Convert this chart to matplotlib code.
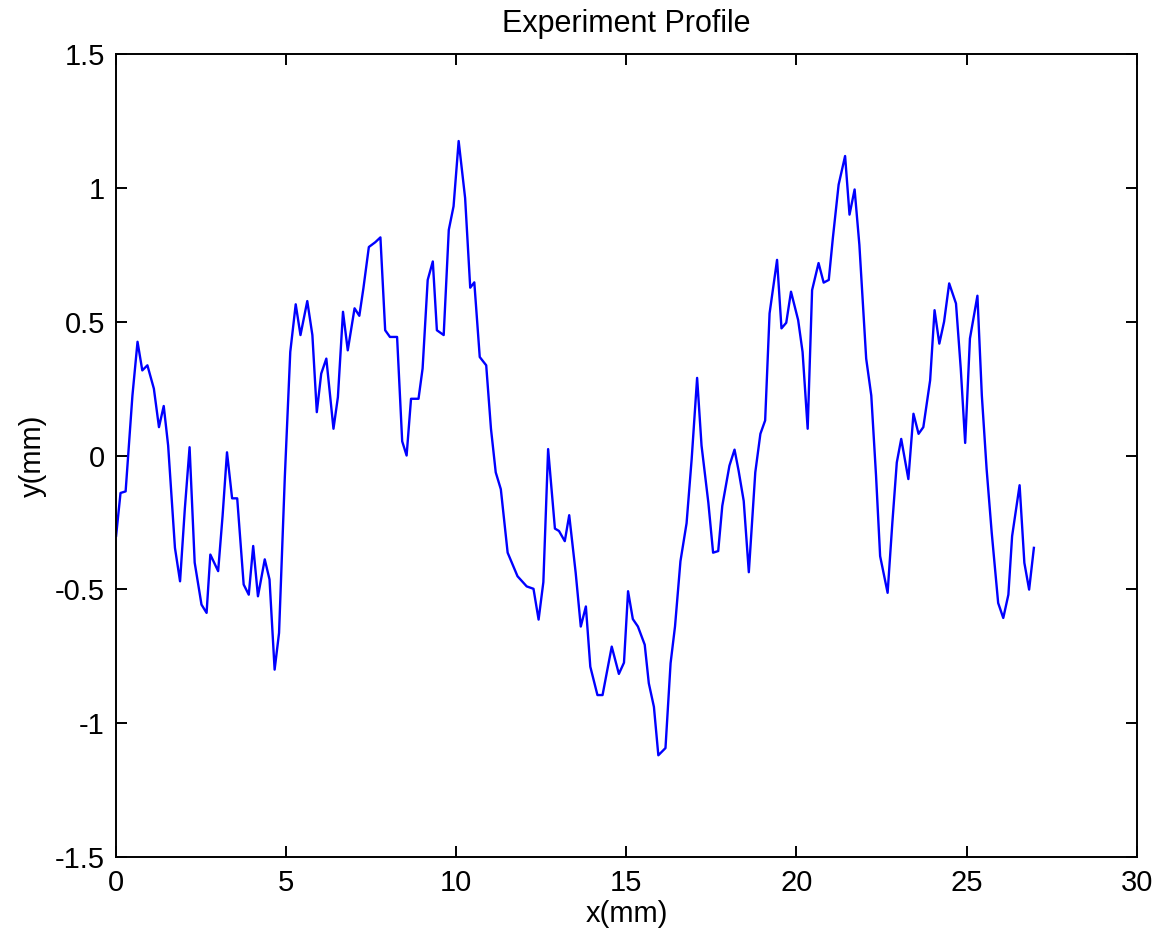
import matplotlib
matplotlib.use("Agg")
import matplotlib.pyplot as plt

plt.rcParams['font.family'] = ['Liberation Sans', 'DejaVu Sans']
plt.rcParams['axes.unicode_minus'] = False

x_mm = [0.0, 0.13, 0.28, 0.48, 0.63, 0.77, 0.92, 1.11, 1.26, 1.40, 1.53, 1.73, 1.88, 2.02, 2.16,
        2.31, 2.51, 2.66, 2.77, 3.00, 3.13, 3.26, 3.41, 3.56, 3.75, 3.90, 4.03, 4.17, 4.37, 4.51,
        4.66, 4.79, 4.96, 5.12, 5.28, 5.42, 5.62, 5.77, 5.90, 6.03, 6.18, 6.39, 6.52, 6.67, 6.81,
        7.01, 7.15, 7.27, 7.43, 7.62, 7.77, 7.91, 8.05, 8.26, 8.41, 8.54, 8.67, 8.89, 9.01,
        9.16, 9.31, 9.43, 9.63, 9.78, 9.92, 10.07, 10.26, 10.41, 10.53, 10.69, 10.88, 11.02, 11.16,
        11.31, 11.51, 11.80, 12.07, 12.27, 12.42, 12.56, 12.70, 12.90, 13.02, 13.19, 13.32, 13.51,
        13.66, 13.81, 13.94, 14.15, 14.30, 14.43, 14.57, 14.78, 14.93, 15.05, 15.19, 15.34, 15.54,
        15.66, 15.81, 15.94, 16.15, 16.30, 16.43, 16.59, 16.77, 16.92, 17.08, 17.21, 17.41, 17.55,
        17.70, 17.82, 18.03, 18.18, 18.30, 18.45, 18.60, 18.79, 18.94, 19.08, 19.21, 19.43, 19.56,
        19.70, 19.84, 20.05, 20.18, 20.33, 20.46, 20.65, 20.80, 20.95, 21.07, 21.24, 21.43, 21.56,
        21.71, 21.85, 22.05, 22.20, 22.34, 22.46, 22.68, 22.82, 22.95, 23.08, 23.29, 23.44, 23.59,
        23.73, 23.93, 24.06, 24.20, 24.34, 24.49, 24.69, 24.83, 24.96, 25.10, 25.32, 25.45, 25.59,
        25.74, 25.93, 26.08, 26.23, 26.34, 26.56, 26.70, 26.84, 26.98]

y_mm = [-0.30, -0.14, -0.134, 0.224, 0.425, 0.318, 0.337, 0.25, 0.106, 0.185, 0.037, -0.345, -0.47, -0.20, 0.031,
        -0.40, -0.557, -0.588, -0.37, -0.432, -0.226, 0.012, -0.16, -0.16, -0.482, -0.52, -0.338, -0.526, -0.388, -0.463,
        -0.80, -0.663, -0.08, 0.387, 0.565, 0.45, 0.577, 0.45, 0.162, 0.306, 0.362, 0.10, 0.218, 0.537, 0.393,
        0.55, 0.522, 0.625, 0.779, 0.797, 0.815, 0.468, 0.443, 0.443, 0.053, 0.0, 0.212, 0.212, 0.325,
        0.656, 0.725, 0.468, 0.45, 0.843, 0.931, 1.175, 0.962, 0.627, 0.647, 0.368, 0.337, 0.10, -0.063,
        -0.126, -0.363, -0.451, -0.489, -0.498, -0.613, -0.473, 0.024, -0.273, -0.282, -0.32, -0.223, -0.438,
        -0.639, -0.564, -0.789, -0.895, -0.895, -0.807, -0.714, -0.816, -0.774, -0.507, -0.611, -0.639, -0.707,
        -0.851, -0.939, -1.12, -1.093, -0.776, -0.639, -0.395, -0.253, -0.013, 0.29, 0.037, -0.176, -0.363,
        -0.357, -0.188, -0.038, 0.022, -0.057, -0.17, -0.436, -0.063, 0.081, 0.131, 0.531, 0.731, 0.475,
        0.496, 0.612, 0.506, 0.387, 0.10, 0.618, 0.719, 0.646, 0.656, 0.812, 1.012, 1.119, 0.90,
        0.994, 0.787, 0.362, 0.224, -0.076, -0.376, -0.513, -0.25, -0.026, 0.062, -0.088, 0.156, 0.081,
        0.106, 0.281, 0.543, 0.418, 0.50, 0.643, 0.568, 0.325, 0.047, 0.437, 0.597, 0.224, -0.05,
        -0.288, -0.551, -0.607, -0.52, -0.301, -0.111, -0.401, -0.501, -0.345]

x_ticks = [0, 5, 10, 15, 20, 25, 30]
x_tick_labels = ["0", "5", "10", "15", "20", "25", "30"]
y_ticks = [-1.5, -1, -0.5, 0, 0.5, 1, 1.5]
y_tick_labels = ["-1.5", "-1", "-0.5", "0", "0.5", "1", "1.5"]

fig = plt.figure(figsize=(11.61, 9.48), dpi=100)
ax = fig.add_axes([0.1, 0.096, 0.879, 0.847])
ax.plot(x_mm, y_mm, color=(0, 0, 1), linewidth=1.7)

ax.set_xlim(0, 30)
ax.set_ylim(-1.5, 1.5)
ax.set_xticks(x_ticks)
ax.set_xticklabels(x_tick_labels)
ax.set_yticks(y_ticks)
ax.set_yticklabels(y_tick_labels)
ax.tick_params(direction='in', length=8, width=1.4, top=True, right=True,
               labelsize=21, colors='black')
ax.tick_params(axis='x', pad=9)
ax.tick_params(axis='y', pad=8)
for s in ax.spines.values():
    s.set_linewidth(1.4)

ax.set_xlabel("x(mm)", fontsize=21, labelpad=2)
ax.set_ylabel("y(mm)", fontsize=21, labelpad=6)
ax.set_title("Experiment Profile", fontsize=22, pad=16)

fig.savefig("out.png", dpi=100)
